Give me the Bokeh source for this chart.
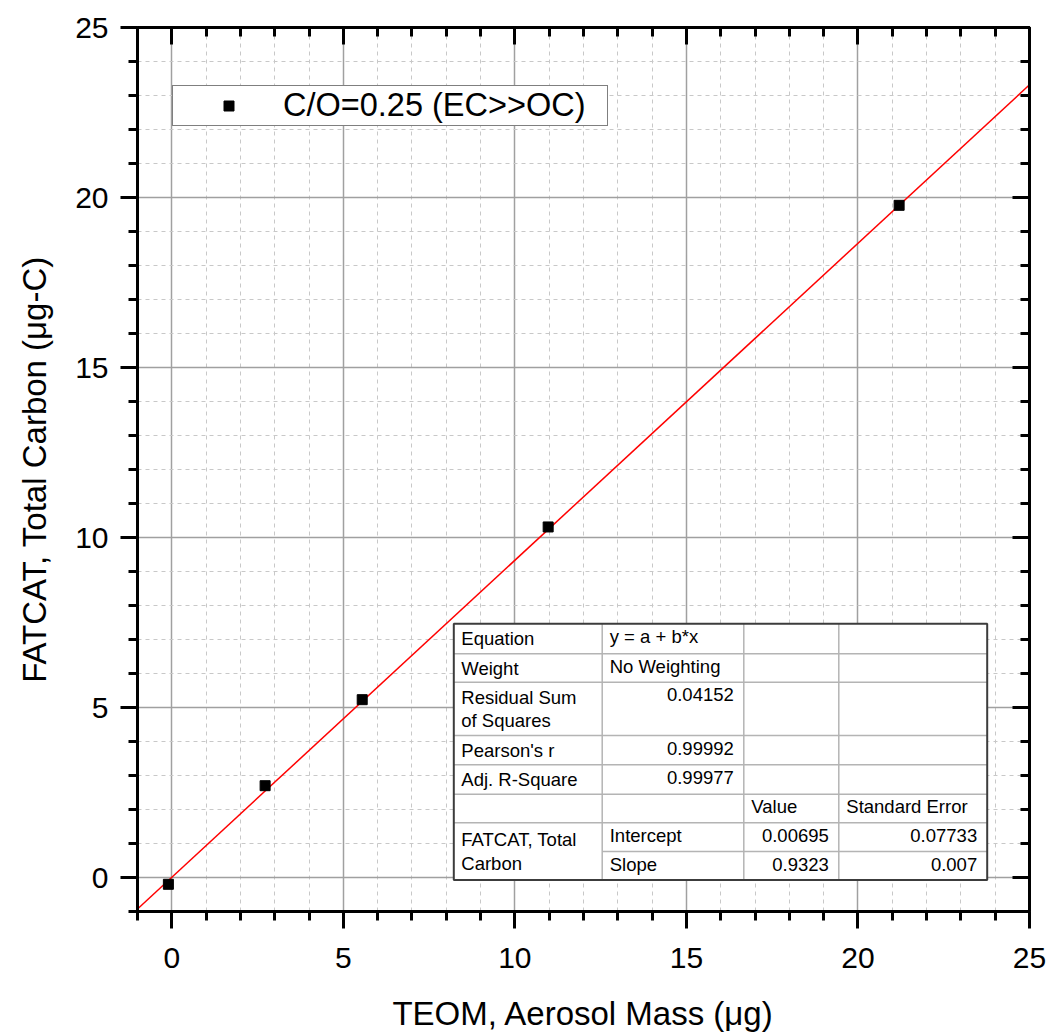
import numpy as np
from bokeh.plotting import figure
from bokeh.models import (LinearAxis, Range1d, FixedTicker, Legend, LegendItem,
                          CustomJSTickFormatter, ColumnDataSource)
from bokeh.core.properties import value
from bokeh.embed import file_html
from bokeh.resources import INLINE

# ---------------- data ----------------
teom_mass = [-0.1, 2.72, 5.55, 10.97, 21.2]          # x, TEOM aerosol mass (ug)
fatcat_tc = [-0.2, 2.70, 5.23, 10.31, 19.77]         # y, FATCAT total carbon (ug-C)
series_label = "C/O=0.25 (EC>>OC)"

fit_row_labels = ["Equation", "Weight", "Residual Sum\nof Squares", "Pearson's r", "Adj. R-Square"]
fit_row_values = ["y = a + b*x", "No Weighting", "0.04152", "0.99992", "0.99977"]
fit_group = "FATCAT, Total\nCarbon"
param_names = ["Intercept", "Slope"]
param_values = [0.00695, 0.9323]
param_errors = [0.07733, 0.007]
param_headers = ["Value", "Standard Error"]

major_ticks = [0, 5, 10, 15, 20, 25]
minor_ticks = [-1, 1, 2, 3, 4, 6, 7, 8, 9, 11, 12, 13, 14, 16, 17, 18, 19, 21, 22, 23, 24]

x_title = "TEOM, Aerosol Mass (\u03bcg)"
y_title = "FATCAT, Total Carbon (\u03bcg-C)"

# ---------------- layout / style ----------------
W, H = 1052, 1035
FL, FR, FT, FB = 137, 1029, 27, 911
XMIN, XMAX, YMIN, YMAX = -1, 25, -1, 25
FONT = "Liberation Sans"

p = figure(width=W, height=H, output_backend="svg", toolbar_location=None,
           x_range=Range1d(XMIN, XMAX), y_range=Range1d(YMIN, YMAX),
           min_border_left=FL, min_border_right=W - FR,
           min_border_top=FT, min_border_bottom=H - FB)
p.background_fill_color = "white"
p.border_fill_color = "white"
p.outline_line_color = "black"
p.outline_line_width = 3

ticker = FixedTicker(ticks=major_ticks, minor_ticks=minor_ticks)

def style_axis(ax, inward, labels=True):
    ax.ticker = ticker
    ax.axis_line_color = "black"
    ax.axis_line_width = 3
    ax.major_tick_line_color = "black"
    ax.major_tick_line_width = 3
    ax.minor_tick_line_color = "black"
    ax.minor_tick_line_width = 3
    if inward:
        ax.major_tick_in, ax.major_tick_out = 17, 0
        ax.minor_tick_in, ax.minor_tick_out = 9, 0
    else:
        ax.major_tick_in, ax.major_tick_out = 0, 17
        ax.minor_tick_in, ax.minor_tick_out = 0, 9
    ax.major_label_text_font = FONT
    ax.major_label_text_font_size = "30px"
    ax.major_label_text_color = "black"
    ax.axis_label_text_font = FONT
    ax.axis_label_text_font_size = "33px"
    ax.axis_label_text_font_style = "normal"
    ax.axis_label_text_color = "black"
    if not labels:
        ax.formatter = CustomJSTickFormatter(code="return ''")
        ax.major_label_standoff = 0

xa = p.xaxis[0]
ya = p.yaxis[0]
style_axis(xa, inward=False)
style_axis(ya, inward=False)
xa.axis_label = x_title
ya.axis_label = y_title
xa.major_label_standoff = 19
xa.axis_label_standoff = 24
ya.major_label_standoff = 12
ya.axis_label_standoff = 19

top_ax = LinearAxis()
right_ax = LinearAxis()
style_axis(top_ax, inward=True, labels=False)
style_axis(right_ax, inward=True, labels=False)
p.add_layout(top_ax, "above")
p.add_layout(right_ax, "right")

for g in (p.xgrid[0], p.ygrid[0]):
    g.ticker = ticker
    g.grid_line_color = "#a0a0a0"
    g.grid_line_width = 1.5
    g.minor_grid_line_color = "#c8c8c8"
    g.minor_grid_line_width = 1
    g.minor_grid_line_dash = "4 4"

# ---------------- fit line & points ----------------
fit_x = [XMIN, XMAX]
fit_y = [param_values[0] + param_values[1] * v for v in fit_x]
p.line(fit_x, fit_y, line_color="red", line_width=1.5)

src = ColumnDataSource(dict(x=teom_mass, y=fatcat_tc))
sc = p.scatter("x", "y", source=src, marker="square", size=10,
               fill_color="black", line_color="black")

# ---------------- legend ----------------
legend = Legend(items=[LegendItem(label=series_label, renderers=[sc])],
                location=(35, FB - 126), orientation="vertical",
                padding=1, margin=0, glyph_width=109, glyph_height=25,
                label_standoff=0, label_width=323,
                label_text_font=FONT, label_text_font_size="32.5px",
                label_text_color="black",
                border_line_color="black", border_line_width=1.5,
                background_fill_color="white", background_fill_alpha=1.0)
p.add_layout(legend, "center")

# ---------------- fit-result table (drawn in plot coordinates) ----------------
TBL_COLS_PX = [453.3, 601.7, 743.3, 838.3, 986.7]
TBL_ROWS_PX = [623.3, 653.3, 681.7, 735.0, 764.3, 793.7, 822.3, 851.0, 879.5]

def px2x(px):
    return XMIN + (px - FL) / (FR - FL) * (XMAX - XMIN)

def px2y(py):
    return YMIN + (FB - py) / (FB - FT) * (YMAX - YMIN)

cx = [px2x(v) for v in TBL_COLS_PX]
ry = [px2y(v) for v in TBL_ROWS_PX]

p.quad(left=[cx[0]], right=[cx[-1]], top=[ry[0]], bottom=[ry[-1]],
       fill_color="white", line_color=None)

# inner lines
hx0, hx1, hy = [], [], []
for i in range(1, len(ry) - 1):
    hx0.append(cx[1] if i == 7 else cx[0])
    hx1.append(cx[-1])
    hy.append(ry[i])
p.segment(x0=hx0, x1=hx1, y0=hy, y1=hy, line_color="#b4b4b4", line_width=1.5)
vx = cx[1:-1]
p.segment(x0=vx, x1=vx, y0=[ry[0]] * len(vx), y1=[ry[-1]] * len(vx),
          line_color="#b4b4b4", line_width=1.5)
p.quad(left=[cx[0]], right=[cx[-1]], top=[ry[0]], bottom=[ry[-1]],
       fill_color=None, line_color="#3c3c3c", line_width=2)

# table texts
PADL, PADR, TOPC = 7.5, 10, 12.5
tx, ty, tt, ta = [], [], [], []

def add_cell(col, r0, r1, text, align, center=False):
    if align == "left":
        xpx = TBL_COLS_PX[col] + PADL
    else:
        xpx = TBL_COLS_PX[col + 1] - PADR
    if center:
        ypx = (TBL_ROWS_PX[r0] + TBL_ROWS_PX[r1]) / 2
    else:
        ypx = TBL_ROWS_PX[r0] + TOPC
    tx.append(px2x(xpx)); ty.append(px2y(ypx)); tt.append(text); ta.append(align)

for i, lab in enumerate(fit_row_labels):
    add_cell(0, i, i + 1, lab, "left", center=True)
for i, val in enumerate(fit_row_values):
    add_cell(1, i, i + 1, val, "left" if i < 2 else "right")
add_cell(2, 5, 6, param_headers[0], "left")
add_cell(3, 5, 6, param_headers[1], "left")
add_cell(0, 6, 8, fit_group, "left", center=True)
for k in range(2):
    add_cell(1, 6 + k, 7 + k, param_names[k], "left")
    add_cell(2, 6 + k, 7 + k, f"{param_values[k]:g}", "right")
    add_cell(3, 6 + k, 7 + k, f"{param_errors[k]:g}", "right")

tsrc = ColumnDataSource(dict(x=tx, y=ty, text=tt, align=ta))
p.text(x="x", y="y", text="text", source=tsrc, text_align="align",
       text_baseline="middle", text_font=value(FONT), text_font_size="18.5px",
       text_color="black", text_line_height=1.12)

open("out.html", "w").write(file_html(p, INLINE))
